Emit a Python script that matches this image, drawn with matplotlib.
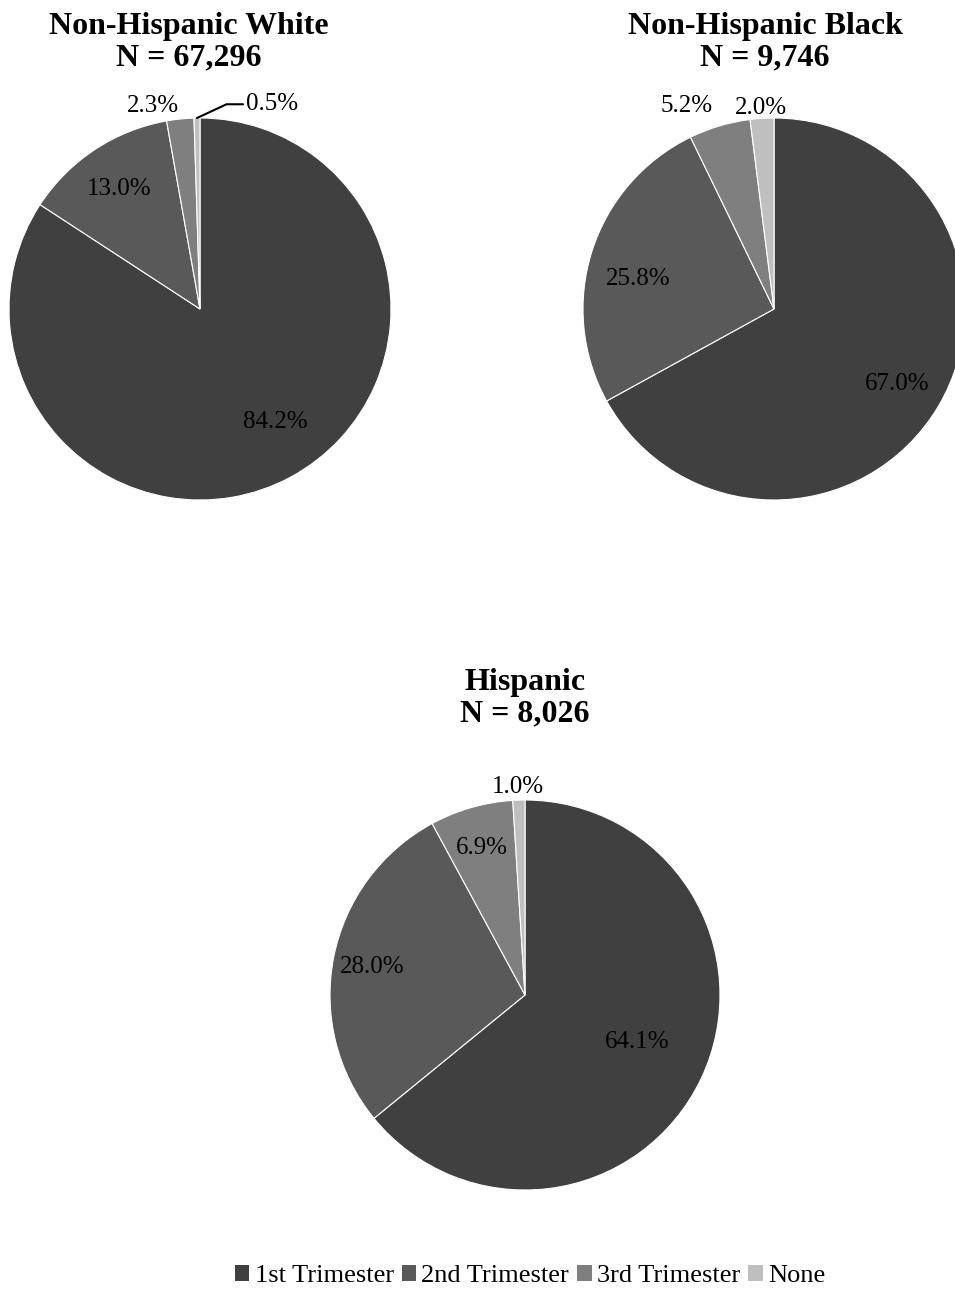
import numpy as np
import matplotlib.pyplot as plt
from matplotlib.patches import Patch

plt.rcParams['font.family'] = ['Liberation Serif', 'DejaVu Serif']

categories = ["1st Trimester", "2nd Trimester", "3rd Trimester", "None"]
groups = ["Non-Hispanic White", "Non-Hispanic Black", "Hispanic"]
group_n = ["67,296", "9,746", "8,026"]
white_pct = [84.2, 13.0, 2.3, 0.5]
black_pct = [67.0, 25.8, 5.2, 2.0]
hisp_pct = [64.1, 28.0, 6.9, 1.0]

colors = ["#404040", "#595959", "#7f7f7f", "#bfbfbf"]

W, H = 955, 1289
fig = plt.figure(figsize=(W / 100, H / 100), dpi=100)


def pie_axes(cx, cy, r):
    ax = fig.add_axes([(cx - r) / W, 1 - (cy + r) / H, 2 * r / W, 2 * r / H])
    ax.axis("off")
    return ax


# label placement per slice: (radius, angle shift in degrees, horizontal alignment)
label_style = [
    [(0.70, 6, "center"), (0.77, 0, "center"), (1.08, 0, "right"), None],
    [(0.75, 0, "center"), (0.73, 4, "center"), (1.12, 0, "right"), (1.07, 0, "center")],
    [(0.62, 4, "center"), (0.8, 0, "center"), (0.8, 0, "center"), (1.08, 0, "center")],
]

layout = [(200, 309, 191), (774, 309, 191), (525, 995, 195)]
title_pos = [(189, 42), (765, 42), (525, 698)]

for k, vals in enumerate([white_pct, black_pct, hisp_pct]):
    cx, cy, r = layout[k]
    ax = pie_axes(cx, cy, r)
    wedges, _ = ax.pie(vals, colors=colors, startangle=90, counterclock=False,
                       radius=1, wedgeprops=dict(edgecolor="white", linewidth=0.8))
    ax.set_xlim(-1, 1)
    ax.set_ylim(-1, 1)
    for w, v, st in zip(wedges, vals, label_style[k]):
        mid = np.deg2rad((w.theta1 + w.theta2) / 2)
        if st is None:
            # leader line for the tiny slice
            ax.annotate(f"{v:.1f}%", xy=(np.cos(mid), np.sin(mid)),
                        xytext=(0.24, 1.085), ha="left", va="center_baseline",
                        fontsize=18, annotation_clip=False,
                        arrowprops=dict(arrowstyle="-", color="black", lw=1.5,
                                        shrinkA=0, shrinkB=0,
                                        connectionstyle="angle,angleA=0,angleB=25,rad=0"))
            continue
        d, shift, ha = st
        a = mid + np.deg2rad(shift)
        ax.text(d * np.cos(a), d * np.sin(a), f"{v:.1f}%", ha=ha,
                va="center_baseline", fontsize=18, clip_on=False)
    tx, ty = title_pos[k]
    fig.text(tx / W, 1 - ty / H, f"{groups[k]}\nN = {group_n[k]}", ha="center",
             va="center", fontsize=23, fontweight="bold", linespacing=1.1)

handles = [Patch(facecolor=c, edgecolor="none") for c in colors]
fig.legend(handles, categories, loc="center", bbox_to_anchor=(530 / W, 1 - 1276 / H),
           ncol=4, frameon=False, fontsize=19, handlelength=0.55, handleheight=0.55,
           handletextpad=0.2, columnspacing=0.3)

fig.savefig("out.png", dpi=100)
